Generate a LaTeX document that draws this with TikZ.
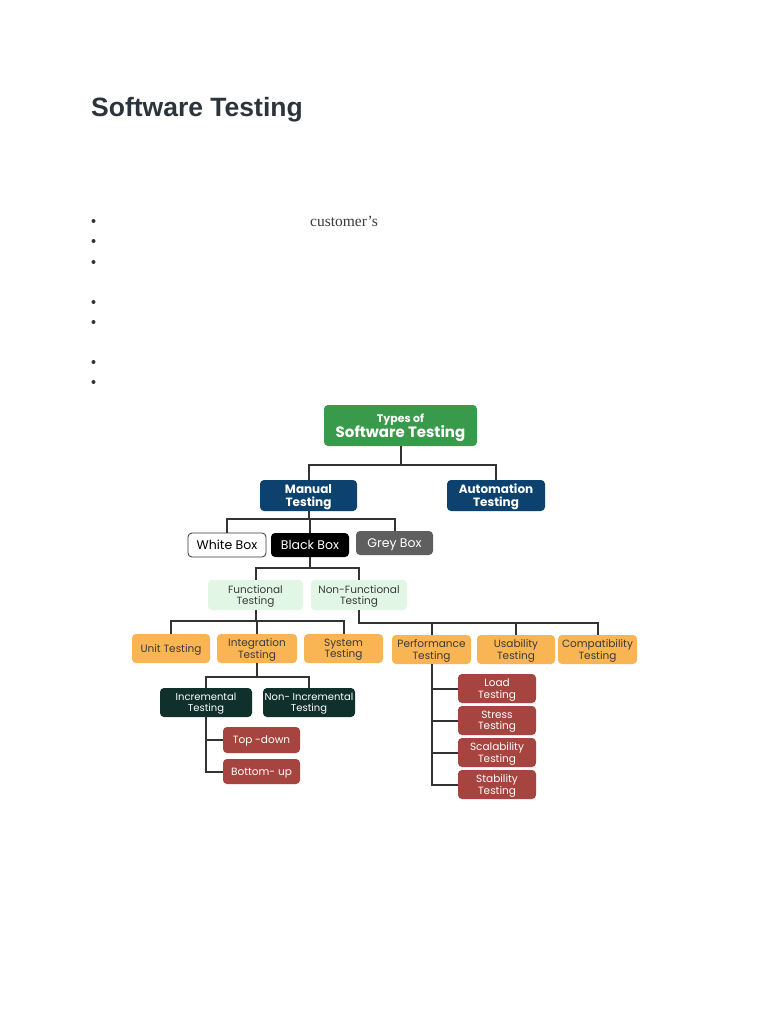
\documentclass[tikz,border=0pt]{standalone}
\usepackage{fontspec}
\setmainfont{Poppins}
\newfontfamily\titlefont{Liberation Sans}
\newfontfamily\seriffont{Liberation Serif}
\definecolor{tgreen}{HTML}{3A9A4C}
\definecolor{tnavy}{HTML}{0E426E}
\definecolor{tgrey}{HTML}{5F5F5F}
\definecolor{tlgreen}{HTML}{E2F6E6}
\definecolor{torange}{HTML}{F9B454}
\definecolor{tdgreen}{HTML}{10302B}
\definecolor{tred}{HTML}{A6443F}
\definecolor{tline}{HTML}{333333}
\definecolor{ttext}{HTML}{3A3A3A}
\definecolor{ttitle}{HTML}{2B333B}
\tikzset{
  box/.style={rounded corners=4pt, inner sep=0pt, text depth=0pt, align=center, font=\fontsize{10}{11}\selectfont},
  greenbox/.style={box, fill=tgreen, text=white},
  navybox/.style={box, fill=tnavy, text=white, font=\fontsize{12}{13}\selectfont\bfseries},
  whitebox/.style={box, draw=tline, line width=0.8pt, fill=white, text=black, font=\fontsize{12.5}{13}\selectfont},
  blackbox/.style={box, fill=black, text=white, font=\fontsize{12.5}{13}\selectfont},
  greybox/.style={box, fill=tgrey, text=white, font=\fontsize{12.5}{13}\selectfont},
  lgbox/.style={box, fill=tlgreen, text=ttext, font=\fontsize{10.5}{11.5}\selectfont},
  orbox/.style={box, fill=torange, text=ttext, font=\fontsize{10.5}{11.5}\selectfont},
  dgbox/.style={box, fill=tdgreen, text=white},
  redbox/.style={box, fill=tred, text=white, font=\fontsize{10.5}{11.5}\selectfont},
  conn/.style={draw=tline, line width=2pt},
  bullet/.style={circle, fill=tline, inner sep=0pt, minimum size=4pt}
}
\begin{document}
\begin{tikzpicture}[x=1pt, y=-1pt]
\useasboundingbox (0,0) rectangle (768,1024);
\fill[white] (0,0) rectangle (768,1024);

% title
\node[anchor=base west, inner sep=0pt, text=ttitle, font=\titlefont\bfseries\fontsize{26.5}{30}\selectfont] (title) at (91,117) {Software Testing};

% bullets
\foreach \yy [count=\i] in {221,241,262,302,322,362,382}
  \node[bullet] (b\i) at (93.5,\yy) {};
\node[anchor=base west, inner sep=0pt, text=ttext, font=\seriffont\fontsize{15.5}{17}\selectfont] (cust) at (310,226) {customer’s};

% diagram nodes
\node[greenbox, minimum width=153pt, minimum height=41pt] (types) at (400.5,425.5)
  {{\bfseries\fontsize{11}{12}\selectfont Types of}\\[-1pt]{\bfseries\fontsize{15}{16}\selectfont Software Testing}};
\node[navybox, minimum width=97pt, minimum height=31pt] (manual) at (308.5,495.5) {Manual\\Testing};
\node[navybox, minimum width=98pt, minimum height=31pt] (auto) at (496,495.5) {Automation\\Testing};

\node[whitebox, minimum width=78pt, minimum height=24pt] (white) at (227,545) {White Box};
\node[blackbox, minimum width=78pt, minimum height=24pt] (black) at (310,545) {Black Box};
\node[greybox, minimum width=77pt, minimum height=24pt] (grey) at (394.5,543) {Grey Box};

\node[lgbox, minimum width=95pt, minimum height=30pt] (func) at (255.5,595) {Functional\\Testing};
\node[lgbox, minimum width=96pt, minimum height=30pt] (nonfunc) at (359,595) {Non-Functional\\Testing};

\node[orbox, minimum width=78pt, minimum height=29pt] (unit) at (171,648.5) {Unit Testing};
\node[orbox, minimum width=80pt, minimum height=29pt] (integ) at (257,648.5) {Integration\\Testing};
\node[orbox, minimum width=79pt, minimum height=29pt] (system) at (343.5,648.5) {System\\Testing};

\node[orbox, minimum width=79pt, minimum height=29pt] (perf) at (431.5,649.5) {Performance\\Testing};
\node[orbox, minimum width=78pt, minimum height=29pt] (usab) at (516,649.5) {Usability\\Testing};
\node[orbox, minimum width=79pt, minimum height=29pt] (compat) at (597.5,649.5) {Compatibility\\Testing};

\node[dgbox, minimum width=92pt, minimum height=29pt] (incr) at (206,702.5) {Incremental\\Testing};
\node[dgbox, minimum width=92pt, minimum height=29pt] (nonincr) at (309,702.5) {Non- Incremental\\Testing};

\node[redbox, minimum width=77pt, minimum height=26pt] (topdown) at (261.5,740) {Top -down};
\node[redbox, minimum width=77pt, minimum height=25pt] (bottomup) at (261.5,771.5) {Bottom- up};

\node[redbox, minimum width=78pt, minimum height=29pt] (load) at (497,688.5) {Load\\Testing};
\node[redbox, minimum width=78pt, minimum height=29pt] (stress) at (497,720.5) {Stress\\Testing};
\node[redbox, minimum width=78pt, minimum height=29pt] (scal) at (497,752.5) {Scalability\\Testing};
\node[redbox, minimum width=78pt, minimum height=29pt] (stab) at (497,784.5) {Stability\\Testing};

% junction coordinates
\coordinate (j1) at (400.5,465);
\coordinate (j2) at (308.5,519);
\coordinate (j3) at (310,568);
\coordinate (j4) at (255.5,621);
\coordinate (j5) at (359,623);
\coordinate (j6) at (257,677);

% connectors
\draw[conn] (types.south) -- (j1);
\draw[conn] (manual.north) -- (manual.north |- j1) -- (auto.north |- j1) -- (auto.north);

\draw[conn] (manual.south) -- (j2);
\draw[conn] (white.north) -- (white.north |- j2) -- (grey.north |- j2) -- (grey.north);
\draw[conn] (black.north) -- (black.north |- j2);

\draw[conn] (black.south) -- (j3);
\draw[conn] (func.north) -- (func.north |- j3) -- (nonfunc.north |- j3) -- (nonfunc.north);

\draw[conn] (func.south) -- (j4);
\draw[conn] (unit.north) -- (unit.north |- j4) -- (system.north |- j4) -- (system.north);
\draw[conn] (integ.north) -- (integ.north |- j4);

\draw[conn] (nonfunc.south) -- (j5) -- (compat.north |- j5) -- (compat.north);
\draw[conn] (perf.north) -- (perf.north |- j5);
\draw[conn] (usab.north) -- (usab.north |- j5);

\draw[conn] (integ.south) -- (j6);
\draw[conn] (incr.north) -- (incr.north |- j6) -- (nonincr.north |- j6) -- (nonincr.north);

\draw[conn] (incr.south) |- (bottomup.west);
\draw[conn] (incr.south |- topdown.west) -- (topdown.west);

\draw[conn] (perf.south) |- (stab.west);
\draw[conn] (perf.south |- load.west) -- (load.west);
\draw[conn] (perf.south |- stress.west) -- (stress.west);
\draw[conn] (perf.south |- scal.west) -- (scal.west);
\end{tikzpicture}
\end{document}
